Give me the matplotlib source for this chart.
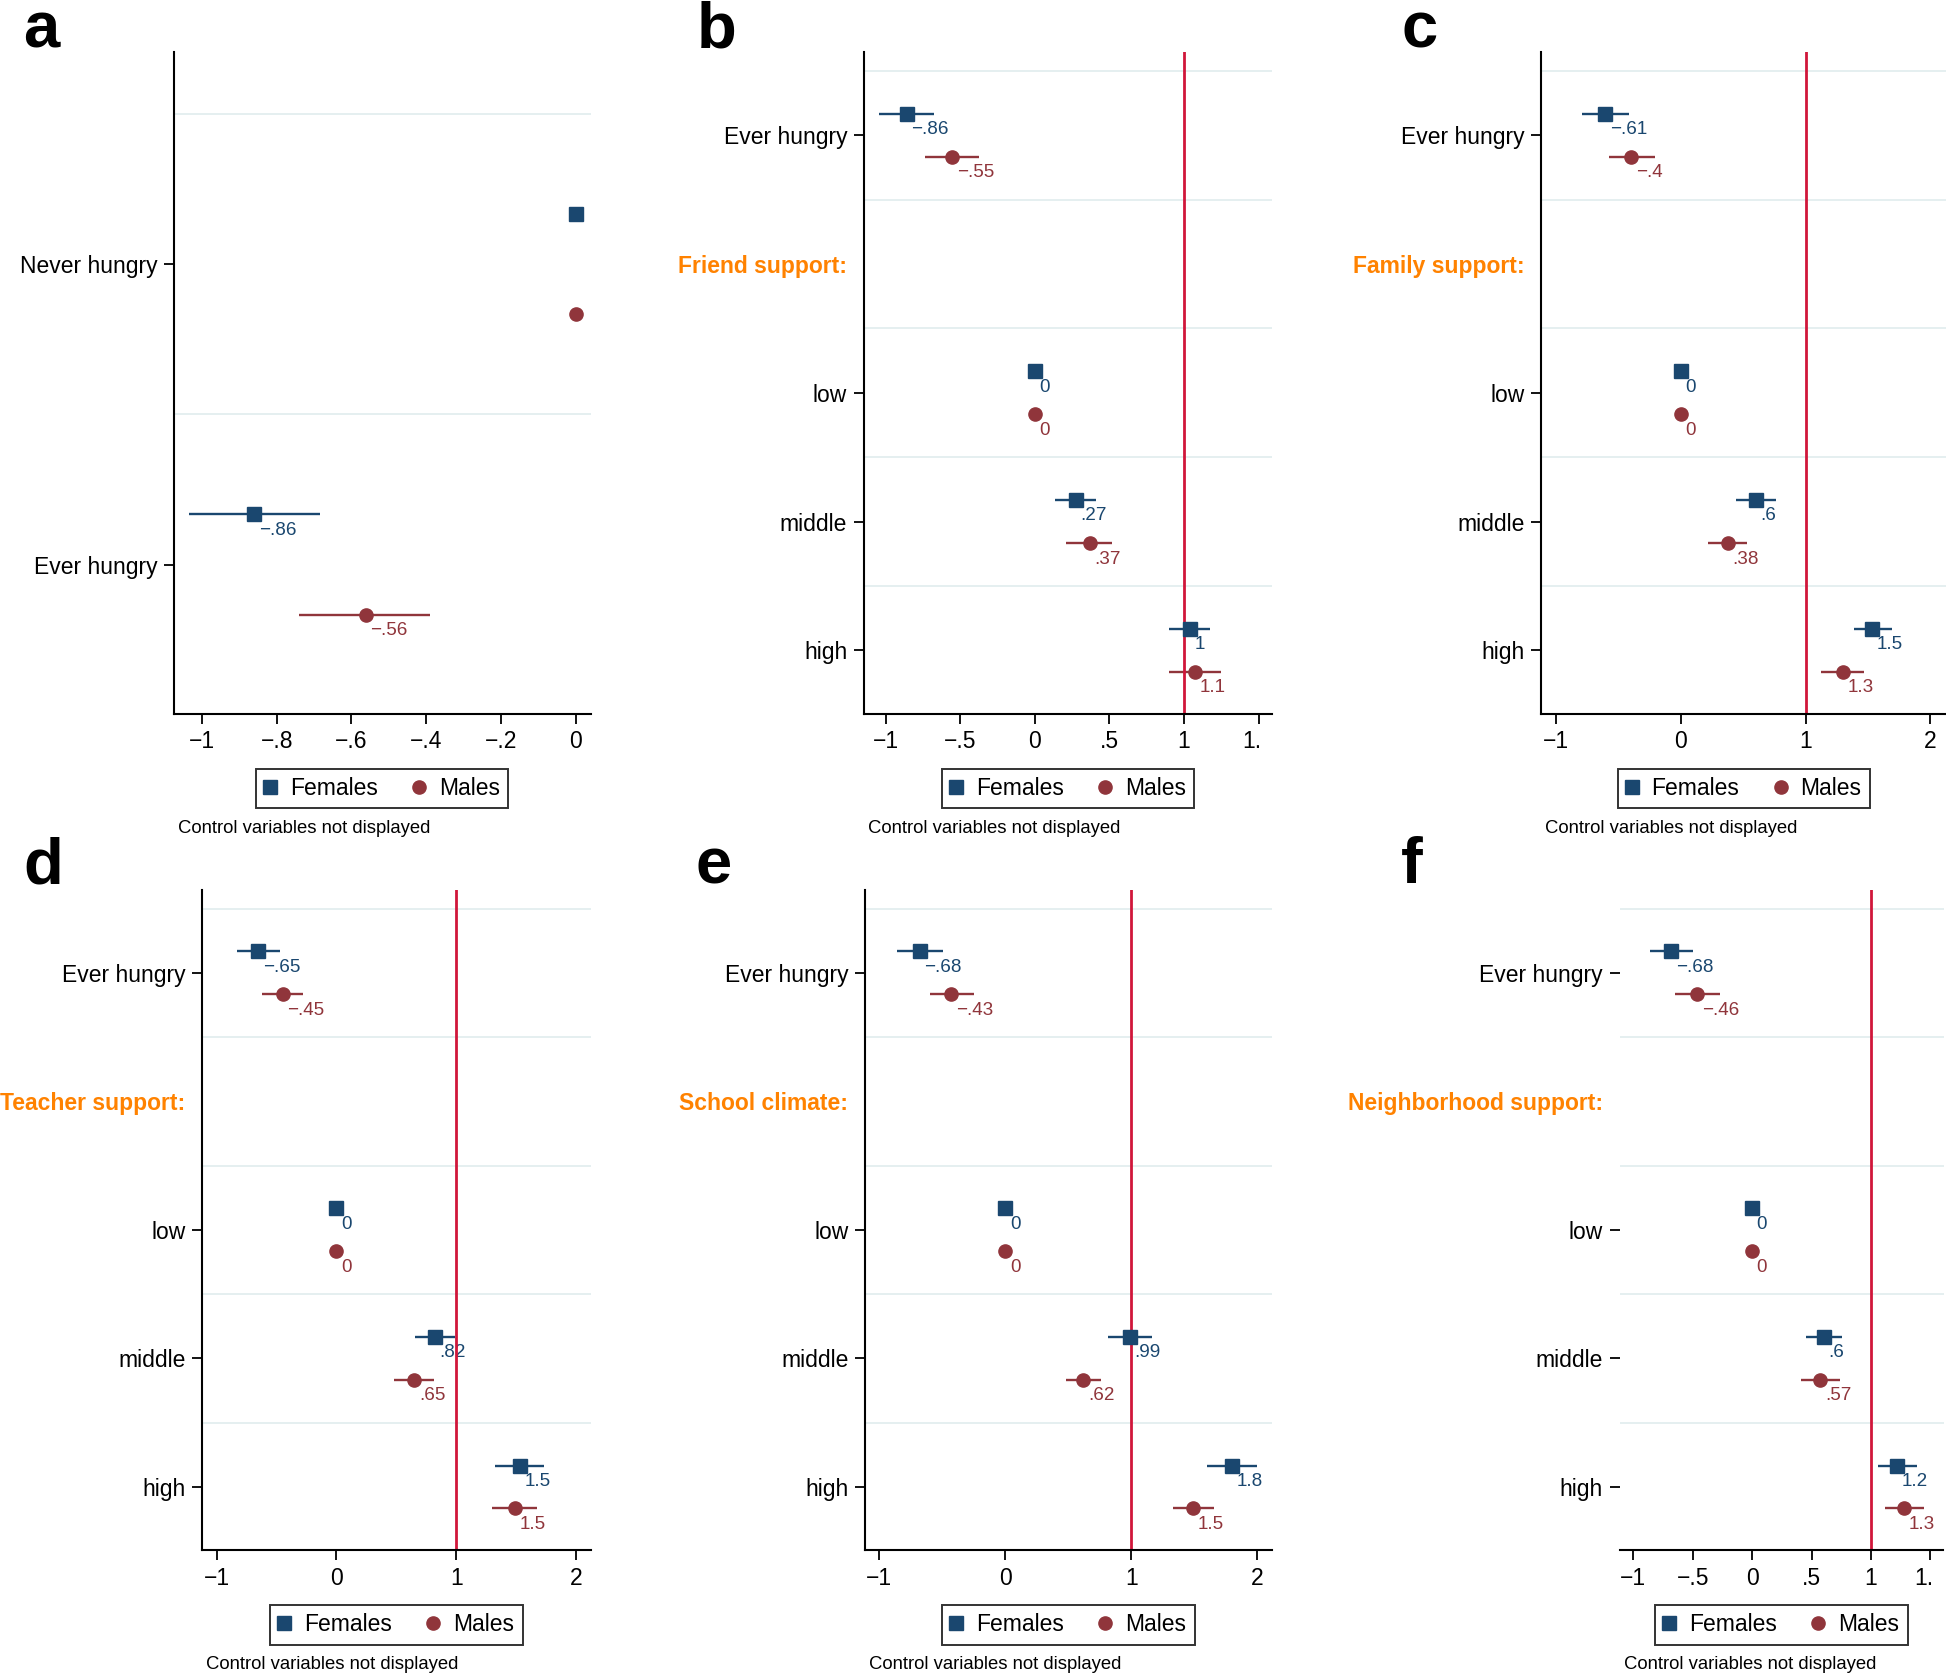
import numpy as np
import matplotlib
matplotlib.use("Agg")
import matplotlib.pyplot as plt
from matplotlib.ticker import FuncFormatter
from matplotlib.transforms import Bbox, TransformedBbox
from matplotlib.lines import Line2D

plt.rcParams['font.family'] = ['Liberation Sans', 'DejaVu Sans']

W, H = 1946, 1676
fig = plt.figure(figsize=(W / 100, H / 100), dpi=100)

NAVY = '#1a476f'
MAROON = '#90353b'
RED = '#d0163a'
ORANGE = '#ff8200'
GRID = '#e3eeef'

nan = np.nan

# ---------------- data ----------------
# panel a
rows_a = ["Never hungry", "Ever hungry"]
fem_a = [0.0, -0.86]
fem_a_lo = [nan, -1.035]
fem_a_hi = [nan, -0.683]
mal_a = [0.0, -0.562]
mal_a_lo = [nan, -0.74]
mal_a_hi = [nan, -0.39]
show_a = [False, True]

# panels b-f share the same rows
rows = ["Ever hungry", "low", "middle", "high"]
headers = ["Friend support:", "Family support:", "Teacher support:",
           "School climate:", "Neighborhood support:"]

fem_b = [-0.86, 0.0, 0.273, 1.04]
fem_b_lo = [-1.046, nan, 0.134, 0.90]
fem_b_hi = [-0.675, nan, 0.412, 1.175]
mal_b = [-0.554, 0.0, 0.368, 1.072]
mal_b_lo = [-0.735, nan, 0.21, 0.90]
mal_b_hi = [-0.373, nan, 0.518, 1.245]

fem_c = [-0.607, 0.0, 0.598, 1.535]
fem_c_lo = [-0.79, nan, 0.44, 1.39]
fem_c_hi = [-0.42, nan, 0.76, 1.69]
mal_c = [-0.40, 0.0, 0.378, 1.30]
mal_c_lo = [-0.58, nan, 0.22, 1.12]
mal_c_hi = [-0.21, nan, 0.53, 1.47]

fem_d = [-0.65, 0.0, 0.824, 1.533]
fem_d_lo = [-0.83, nan, 0.66, 1.328]
fem_d_hi = [-0.468, nan, 0.99, 1.734]
mal_d = [-0.448, 0.0, 0.65, 1.488]
mal_d_lo = [-0.622, nan, 0.483, 1.303]
mal_d_hi = [-0.275, nan, 0.813, 1.675]

fem_e = [-0.678, 0.0, 0.987, 1.80]
fem_e_lo = [-0.855, nan, 0.816, 1.60]
fem_e_hi = [-0.493, nan, 1.164, 2.00]
mal_e = [-0.428, 0.0, 0.618, 1.49]
mal_e_lo = [-0.599, nan, 0.48, 1.33]
mal_e_hi = [-0.25, nan, 0.757, 1.655]

fem_f = [-0.682, 0.0, 0.604, 1.222]
fem_f_lo = [-0.86, nan, 0.455, 1.056]
fem_f_hi = [-0.50, nan, 0.757, 1.385]
mal_f = [-0.462, 0.0, 0.573, 1.28]
mal_f_lo = [-0.649, nan, 0.41, 1.115]
mal_f_hi = [-0.274, nan, 0.74, 1.45]

ticks_a = [-1, -0.8, -0.6, -0.4, -0.2, 0]
ticks_half = [-1, -0.5, 0, 0.5, 1, 1.5]
ticks_unit = [-1, 0, 1, 2]

legend_labels = ["Females", "Males"]
caption = "Control variables not displayed"


def stata_fmt(v):
    s = format(v, '.2g')
    neg = s.startswith('-')
    s = s.lstrip('-')
    if s.startswith('0.'):
        s = s[1:]
    return ('\u2212' if neg else '') + s


def tick_fmt(v, pos=None):
    if abs(v) < 1e-9:
        return '0'
    s = ('%.1f' % abs(v)).rstrip('0').rstrip('.')
    if s.startswith('0.'):
        s = s[1:]
    return ('\u2212' if v < 0 else '') + s


def panel(px, letter, letter_xy, row_labels, row_pos, header_pos, header,
          fem, flo, fhi, mal, mlo, mhi, show, xlim, xticks, ylim, grid_y,
          vline=True, yspine=True, clip_right=None):
    l, t, r, b = px
    ax = fig.add_axes([l / W, 1 - b / H, (r - l) / W, (b - t) / H])
    ax.set_xlim(*xlim)
    ax.set_ylim(*ylim)
    for g in grid_y:
        ax.axhline(g, color=GRID, lw=1.3, zorder=0)
    off = 0.167
    series = [(fem, flo, fhi, NAVY, 's', 9.5, -off),
              (mal, mlo, mhi, MAROON, 'o', 9.5, off)]
    for vals, lo, hi, col, mk, ms, dy in series:
        ys = [p + dy for p in row_pos]
        for v, a, bb, y, sh in zip(vals, lo, hi, ys, show):
            if not np.isnan(a):
                ax.plot([a, bb], [y, y], color=col, lw=1.7, zorder=4,
                        solid_capstyle='butt')
            ax.plot([v], [y], marker=mk, ms=ms, color=col, ls='', zorder=6)
            if sh:
                ax.annotate(stata_fmt(v), (v, y), xytext=(3.3, -5.3),
                            textcoords='offset points', ha='left', va='top',
                            color=col, fontsize=13.6, zorder=2)
    if vline:
        ax.axvline(1, color=RED, lw=2.0, zorder=5)

    for s in ['top', 'right']:
        ax.spines[s].set_visible(False)
    ax.spines['left'].set_visible(yspine)
    for s in ['left', 'bottom']:
        ax.spines[s].set_linewidth(1.5)
    ax.spines['bottom'].set_zorder(7)

    ticks = list(row_pos)
    labels = list(row_labels)
    if header is not None:
        ticks.insert(1, header_pos)
        labels.insert(1, header)
    ax.set_yticks(ticks)
    ax.set_yticklabels(labels)
    ax.set_xticks(xticks)
    ax.xaxis.set_major_formatter(FuncFormatter(tick_fmt))
    ax.tick_params(axis='both', length=7, width=1.3, labelsize=16.5,
                   pad=5, color='black')
    if header is not None:
        tk = ax.yaxis.get_major_ticks()[1]
        tk.tick1line.set_visible(False)
        tk.label1.set_color(ORANGE)
        tk.label1.set_fontweight('bold')
    if clip_right is not None:
        cb = TransformedBbox(Bbox.from_extents(0, 0, clip_right / W, 1),
                             fig.transFigure)
        for tk in ax.xaxis.get_major_ticks():
            tk.label1.set_clip_on(True)
            tk.label1.set_clip_box(cb)

    handles = [Line2D([], [], marker='s', ls='', color=NAVY, ms=9.5),
               Line2D([], [], marker='o', ls='', color=MAROON, ms=9.5)]
    leg = ax.legend(handles, legend_labels, loc='center',
                    bbox_to_anchor=(0.5, -0.1135), ncol=2, frameon=True,
                    fancybox=False, edgecolor='black', fontsize=16.5,
                    handlelength=0.5, handletextpad=0.62, columnspacing=1.55,
                    borderpad=0.36, borderaxespad=0)
    leg.get_frame().set_linewidth(1.4)
    ax.text(4 / (r - l), -0.173, caption, transform=ax.transAxes,
            ha='left', va='center', fontsize=13.3)
    fig.text(letter_xy[0] / W, 1 - letter_xy[1] / H, letter, fontsize=47,
             fontweight='bold', ha='left', va='baseline')
    return ax


pos5 = [1, 3, 4, 5]
grid5 = [0.5, 1.5, 2.5, 3.5, 4.5]
ylim5 = (5.49, 0.355)
TOP1, BOT1 = 52, 713.6
TOP2, BOT2 = 889.9, 1550

panel((173.8, TOP1, 590.8, BOT1), 'a', (23, 47), rows_a, [1, 2], None, None,
      fem_a, fem_a_lo, fem_a_hi, mal_a, mal_a_lo, mal_a_hi, show_a,
      (-1.075, 0.04), ticks_a, (2.496, 0.293), [0.5, 1.5], vline=False)

panel((863.8, TOP1, 1272, BOT1), 'b', (697, 47), rows, pos5, 2, headers[0],
      fem_b, fem_b_lo, fem_b_hi, mal_b, mal_b_lo, mal_b_hi, [True] * 4,
      (-1.147, 1.59), ticks_half, ylim5, grid5, clip_right=1260)

panel((1541.4, TOP1, 1946, BOT1), 'c', (1401, 47), rows, pos5, 2, headers[1],
      fem_c, fem_c_lo, fem_c_hi, mal_c, mal_c_lo, mal_c_hi, [True] * 4,
      (-1.119, 2.125), ticks_unit, ylim5, grid5)

panel((202.3, TOP2, 590.8, BOT2), 'd', (23, 883), rows, pos5, 2, headers[2],
      fem_d, fem_d_lo, fem_d_hi, mal_d, mal_d_lo, mal_d_hi, [True] * 4,
      (-1.119, 2.124), ticks_unit, ylim5, grid5)

panel((865, TOP2, 1272, BOT2), 'e', (695, 883), rows, pos5, 2, headers[3],
      fem_e, fem_e_lo, fem_e_hi, mal_e, mal_e_lo, mal_e_hi, [True] * 4,
      (-1.112, 2.115), ticks_unit, ylim5, grid5)

panel((1619.6, TOP2, 1943.5, BOT2), 'f', (1401, 883), rows, pos5, 2, headers[4],
      fem_f, fem_f_lo, fem_f_hi, mal_f, mal_f_lo, mal_f_hi, [True] * 4,
      (-1.115, 1.61), ticks_half, ylim5, grid5, yspine=False, clip_right=1934)

fig.savefig('out.png', dpi=100, facecolor='white')
